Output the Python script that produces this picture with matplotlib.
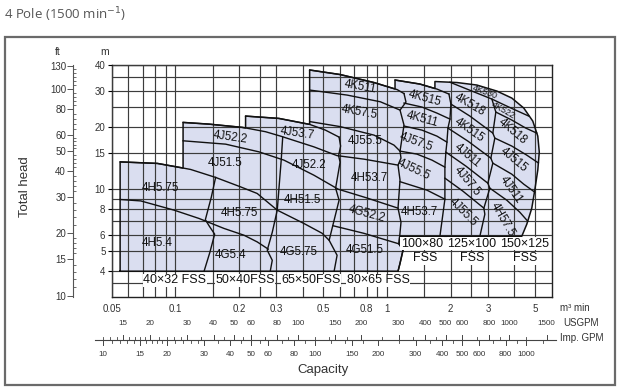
import matplotlib
matplotlib.use("Agg")
import matplotlib.pyplot as plt
from matplotlib.patches import Polygon, Rectangle
from matplotlib.ticker import NullFormatter

plt.rcParams['font.family'] = ['Liberation Sans', 'DejaVu Sans']

# ---------------- data (capacity m3/min, head m) ----------------
# 40x32 top / long divider curves
A_q = [0.0548, 0.0822, 0.1087, 0.1181, 0.1549, 0.2032, 0.2435, 0.3029, 0.4045, 0.4936, 0.5327]
A_h = [13.56, 13.33, 12.66, 12.46, 11.40, 10.26, 9.53, 7.91, 6.82, 6.11, 5.65]
B_q = [0.0548, 0.0686, 0.0986, 0.1293, 0.1697, 0.2109, 0.2435, 0.2746]
B_h = [8.91, 8.77, 7.91, 7.21, 6.45, 5.98, 5.55, 5.12]
C_q = [0.1087, 0.1442, 0.2070, 0.2146, 0.2667, 0.3139, 0.4511, 0.5808, 0.7788, 1.127]
C_h = [21.07, 20.67, 19.93, 19.81, 18.99, 18.08, 16.04, 14.54, 13.98, 13.08]
D_q = [0.1087, 0.1727, 0.2481, 0.3256, 0.4511, 0.5873, 0.7961, 1.127]
D_h = [17.16, 16.53, 15.17, 13.83, 11.69, 10.0, 9.09, 8.09]
E_q = [0.2146, 0.3084, 0.4309, 0.5117, 0.5935]
E_h = [22.61, 22.03, 20.61, 19.33, 17.88]
F_q = [0.4309, 0.6001, 0.8683, 1.091, 1.115, 1.203]
F_h = [37.83, 35.96, 32.88, 30.61, 30.41, 29.08]
G_q = [0.4309, 0.6477, 0.9298, 1.152]
G_h = [30.24, 28.59, 26.53, 24.18]
H_q = [0.4309, 0.6001, 0.8683, 1.079, 1.152]
H_h = [21.27, 20.11, 18.28, 16.35, 15.29]
K_q = [0.555, 0.7763, 1.139]
K_h = [6.65, 6.11, 5.43]
L_q = [1.091, 1.431, 1.684, 1.721, 1.961]
L_h = [33.82, 32.33, 30.77, 30.58, 28.92]
M1_q = [1.203, 1.463, 1.721, 1.983]
M1_h = [26.15, 25.01, 23.38, 21.87]
M2_q = [1.203, 1.463, 1.721, 1.919]
M2_h = [20.23, 19.33, 18.08, 16.91]
M3_q = [1.152, 1.385, 1.631, 1.877]
M3_h = [15.29, 14.79, 13.83, 12.79]
M4_q = [1.152, 1.544, 1.877]
M4_h = [10.87, 9.89, 8.94]
O_q = [1.684, 2.139, 2.658, 3.303, 3.887, 4.428, 4.884, 5.157, 5.242, 5.157, 4.991, 4.831, 4.575, 4.333]
O_h = [33.26, 32.89, 31.98, 29.90, 27.65, 24.73, 21.38, 18.08, 15.12, 12.37, 9.89, 8.09, 6.76, 5.91]
N1_q = [1.983, 2.518, 3.129, 3.763, 4.675]
N1_h = [33.0, 29.90, 27.35, 25.01, 22.61]
N2_q = [3.267, 3.887, 4.527, 5.100]
N2_h = [23.65, 21.63, 19.77, 18.70]
P1_q = [2.004, 2.464, 3.162]
P1_h = [25.86, 22.61, 18.70]
P2_q = [1.940, 2.411, 3.095]
P2_h = [19.77, 17.10, 14.14]
P3_q = [1.897, 2.358, 2.995]
P3_h = [15.12, 12.94, 10.69]
P4_q = [1.877, 2.283, 2.868]
P4_h = [11.31, 9.78, 8.09]
Q2_q = [3.232, 3.887, 4.575, 5.19]
Q2_h = [17.68, 16.18, 14.62, 13.4]
Q3_q = [3.162, 3.887, 4.428, 4.991]
Q3_h = [13.37, 11.82, 10.57, 9.67]
Q4_q = [3.061, 3.681, 4.241, 4.625]
Q4_h = [10.11, 8.84, 7.73, 6.99]

# right-hand limits of each pump size
RB40_q = [0.1549, 0.1478, 0.1385, 0.1447, 0.1533, 0.1455, 0.1366]
RB40_h = [11.40, 9.15, 7.11, 6.61, 6.05, 4.94, 4.0]
RB50_q = [0.3214, 0.3162, 0.3094, 0.3029, 0.2869, 0.2716, 0.2869, 0.2806]
RB50_h = [17.88, 13.83, 10.45, 7.91, 6.18, 5.06, 4.52, 4.0]
RB65_q = [0.5935, 0.6034, 0.5903, 0.6001, 0.5716, 0.5935, 0.5327, 0.5808, 0.5623]
RB65_h = [17.88, 16.18, 14.54, 13.52, 10.11, 8.84, 5.65, 4.78, 4.0]
RB80_q = [1.203, 1.229, 1.152, 1.203, 1.152, 1.164, 1.127, 1.152, 1.127, 1.164, 1.139, 1.190, 1.152, 1.127]
RB80_h = [29.08, 26.44, 24.18, 20.44, 15.29, 14.14, 13.08, 11.06, 8.09, 6.91, 5.43, 5.06, 4.37, 4.0]
RB100_q = [1.961, 2.004, 1.983, 1.940, 1.919, 1.897, 1.877, 1.877, 1.877, 1.778]
RB100_h = [28.92, 25.86, 21.87, 19.77, 16.91, 15.12, 12.79, 11.31, 8.94, 5.91]
RB125_q = [3.129, 3.267, 3.162, 3.232, 3.095, 3.162, 2.995, 3.061, 2.868, 2.899, 2.746]
RB125_h = [27.35, 23.65, 18.70, 17.68, 14.14, 13.37, 10.69, 10.11, 8.09, 7.56, 5.91]

BASE_H = 4.0
SHELF_H = 5.91
shelf_q = [4.333, 1.148]

# model labels: text, Q, H, rotation
model_txt = ['4H5.75', '4H5.4',
             '4J52.2', '4J51.5', '4H5.75', '4G5.4',
             '4J53.7', '4J52.2', '4H51.5', '4G5.75',
             '4K511', '4K57.5', '4J55.5', '4H53.7', '4G52.2', '4G51.5',
             '4K515', '4K511', '4J57.5', '4J55.5', '4H53.7',
             '4K518', '4K515', '4J511', '4J57.5', '4J55.5',
             '4K530', '4K522', '4K518', '4J515', '4J511', '4H57.5']
model_q = [0.0850, 0.0822,
           0.1817, 0.1727, 0.2003, 0.1817,
           0.3762, 0.4285, 0.3971, 0.3845,
           0.7459, 0.7378, 0.7875, 0.8225, 0.8048, 0.7875,
           1.511, 1.463, 1.370, 1.341, 1.415,
           2.464, 2.437, 2.385, 2.385, 2.283,
           2.899, 3.563, 3.929, 3.972, 3.845, 3.525]
model_h = [10.11, 5.47,
           17.88, 13.37, 7.65, 4.78,
           18.70, 13.08, 8.84, 4.94,
           31.27, 23.65, 17.10, 11.31, 7.56, 5.06,
           27.65, 21.87, 16.91, 12.37, 7.73,
           25.57, 19.33, 14.62, 10.93, 7.73,
           29.58, 24.18, 19.12, 13.83, 9.89, 7.15]
model_rot = [0, 0,
             -8, 0, 0, 0,
             -8, 0, 0, 0,
             -10, -10, 0, 0, -15, 0,
             -15, -15, -20, -25, 0,
             -30, -35, -40, -50, -45,
             -20, -30, -40, -40, -55, -60]

size_txt = ['40×32 FSS', '50×40FSS', '65×50FSS', '80×65 FSS',
            '100×80', 'FSS', '125×100', 'FSS', '150×125', 'FSS']
size_q = [0.0995, 0.2127, 0.4381, 0.9070, 1.463, 1.511, 2.518, 2.518, 4.477, 4.477]
size_h = [3.62, 3.62, 3.62, 3.62, 5.44, 4.62, 5.44, 4.62, 5.44, 4.62]

cap_ticks = [0.05, 0.1, 0.2, 0.3, 0.5, 0.8, 1, 2, 3, 5]
cap_labels = ['0.05', '0.1', '0.2', '0.3', '0.5', '0.8', '1', '2', '3', '5']
x_grid = [0.06, 0.07, 0.08, 0.09, 0.15, 0.25, 0.4, 0.6, 0.7, 0.9, 1.5, 2.5, 4]
m_ticks = [4, 5, 6, 8, 10, 15, 20, 30, 40]
y_grid = [3.5, 7, 9, 25, 35]
ft_ticks = [10, 15, 20, 30, 40, 50, 60, 80, 100, 130]
ft_minor = list(range(11, 20)) + list(range(22, 60, 2)) + list(range(64, 100, 4)) + list(range(105, 135, 5))

usg_major = [15, 20, 30, 40, 50, 60, 80, 100, 150, 200, 300, 400, 500, 600, 800, 1000, 1500]
usg_minor = [12, 13, 14, 16, 17, 18, 19, 22, 24, 26, 28, 35, 45, 55, 70, 90, 120, 140, 170,
             250, 350, 450, 700, 900, 1200]
imp_major = [10, 15, 20, 30, 40, 50, 60, 80, 100, 150, 200, 300, 400, 500, 600, 800, 1000]
imp_minor = [11, 12, 13, 14, 16, 17, 18, 19, 22, 24, 26, 28, 35, 45, 55, 70, 90, 120, 140, 170,
             250, 350, 450, 700, 900, 1200]
USG = 264.172
IMP = 219.969
M2FT = 3.28084

# ---------------- figure ----------------
fig = plt.figure(figsize=(6.22, 3.91), dpi=100)
ax = fig.add_axes([111.7 / 622, 1 - 297 / 391, 440 / 622, 232 / 391])
ax.set_xscale('log')
ax.set_yscale('log')
ax.set_xlim(0.05, 6.0)
ax.set_ylim(3.0, 40.0)

fill_col = '#dadef0'
line_col = '#111111'

# outer silhouette of the covered range
sil_q = ([A_q[0]] + A_q[:3] + C_q[:4] + E_q[:3] + F_q[:4] + L_q[:3] + O_q
         + [shelf_q[1]] + RB80_q[-4:])
sil_h = ([BASE_H] + A_h[:3] + C_h[:4] + E_h[:3] + F_h[:4] + L_h[:3] + O_h
         + [SHELF_H] + RB80_h[-4:])
ax.add_patch(Polygon(list(zip(sil_q, sil_h)), closed=True, facecolor=fill_col,
                     edgecolor='none', zorder=1))
ax.plot(sil_q + [sil_q[0]], sil_h + [sil_h[0]], color=line_col, lw=1.1, zorder=3)

curves = [(A_q, A_h), (B_q, B_h), (C_q, C_h), (D_q, D_h), (E_q, E_h), (F_q, F_h),
          (G_q, G_h), (H_q, H_h), (K_q, K_h), (L_q, L_h), (M1_q, M1_h), (M2_q, M2_h),
          (M3_q, M3_h), (M4_q, M4_h), (N1_q, N1_h), (N2_q, N2_h), (P1_q, P1_h),
          (P2_q, P2_h), (P3_q, P3_h), (P4_q, P4_h), (Q2_q, Q2_h), (Q3_q, Q3_h),
          (Q4_q, Q4_h), (RB40_q, RB40_h), (RB50_q, RB50_h), (RB65_q, RB65_h),
          (RB80_q, RB80_h), (RB100_q, RB100_h), (RB125_q, RB125_h)]
for q, h in curves:
    ax.plot(q, h, color=line_col, lw=1.0, zorder=3, solid_joinstyle='round')

for t, q, h, r in zip(model_txt, model_q, model_h, model_rot):
    fs = 6.5 if t in ('4K530', '4K522') else 8.3
    ax.text(q, h, t, rotation=r, rotation_mode='anchor', ha='center', va='center',
            fontsize=fs, color='#111111', zorder=4)

for t, q, h in zip(size_txt, size_q, size_h):
    ax.text(q, h, t, ha='center', va='center', fontsize=9, color='#111111', zorder=4,
            bbox=dict(facecolor='white', edgecolor='none', pad=0.4))

# grid and axes
ax.set_xticks(cap_ticks, cap_labels)
ax.set_xticks(x_grid, minor=True)
ax.set_yticks(m_ticks, [str(v) for v in m_ticks])
ax.set_yticks(y_grid, minor=True)
ax.xaxis.set_minor_formatter(NullFormatter())
ax.yaxis.set_minor_formatter(NullFormatter())
ax.set_axisbelow(False)
ax.grid(True, which='both', color='#3c3c3c', lw=0.85)
ax.tick_params(axis='x', which='both', length=0, labelsize=7, pad=5, labelcolor='#333333')
ax.tick_params(axis='y', which='major', length=3, width=0.8, direction='out',
               labelsize=7, pad=1.5, labelcolor='#333333')
ax.tick_params(axis='y', which='minor', length=0)
for s in ax.spines.values():
    s.set_color('#222222')
    s.set_linewidth(1.0)

# feet scale on the left
ax2 = fig.add_axes([73 / 622, 1 - 297 / 391, 0.0001, 232 / 391])
ax2.set_yscale('log')
ax2.set_ylim(3.0 * M2FT, 40.0 * M2FT)
ax2.set_xticks([])
for k in ('top', 'right', 'bottom'):
    ax2.spines[k].set_visible(False)
ax2.spines['left'].set_color('#555555')
ax2.spines['left'].set_linewidth(0.8)
ax2.set_facecolor('none')
ax2.set_yticks(ft_ticks, [str(v) for v in ft_ticks])
ax2.set_yticks(ft_minor, minor=True)
ax2.yaxis.set_minor_formatter(NullFormatter())
ax2.tick_params(axis='y', which='major', length=4, width=0.7, direction='out',
                labelsize=7, pad=1, color='#555555', labelcolor='#333333')
ax2.tick_params(axis='y', which='minor', length=2.5, width=0.6, direction='in',
                color='#555555')

fig.text(58 / 622, 1 - 52 / 391, 'ft', ha='center', va='center', fontsize=7.5, color='#333333')
fig.text(105 / 622, 1 - 52 / 391, 'm', ha='center', va='center', fontsize=7.5, color='#333333')
fig.text(25 / 622, 1 - 187 / 391, 'Total head', rotation=90, ha='center', va='center',
         fontsize=9.5, color='#333333')

# flow conversion scale below the chart
tr = ax.get_xaxis_transform()
y_line = -0.185
px = 1 / 232
ax.plot([0.0417, 6.3], [y_line, y_line], transform=tr, clip_on=False, color='#444444', lw=0.8)
for v in usg_major:
    ax.plot([v / USG] * 2, [y_line, y_line + 5 * px], transform=tr, clip_on=False,
            color='#444444', lw=0.7)
    ax.text(v / USG, -0.116, str(v), transform=tr, ha='center', va='center',
            fontsize=5.8, color='#333333')
for v in usg_minor:
    ax.plot([v / USG] * 2, [y_line, y_line + 3 * px], transform=tr, clip_on=False,
            color='#444444', lw=0.6)
for v in imp_major:
    ax.plot([v / IMP] * 2, [y_line, y_line - 5 * px], transform=tr, clip_on=False,
            color='#444444', lw=0.7)
    ax.text(v / IMP, -0.25, str(v), transform=tr, ha='center', va='center',
            fontsize=5.8, color='#333333')
for v in imp_minor:
    ax.plot([v / IMP] * 2, [y_line, y_line - 3 * px], transform=tr, clip_on=False,
            color='#444444', lw=0.6)

ax.text(1.019, -0.047, 'm³ min', transform=ax.transAxes, ha='left', va='center',
        fontsize=7, color='#333333')
ax.text(1.026, -0.112, 'USGPM', transform=ax.transAxes, ha='left', va='center',
        fontsize=7, color='#333333')
ax.text(1.019, -0.177, 'Imp. GPM', transform=ax.transAxes, ha='left', va='center',
        fontsize=7, color='#333333')
ax.text(0.48, -0.315, 'Capacity', transform=ax.transAxes, ha='center', va='center',
        fontsize=9.5, color='#333333')

# title and outer frame
fig.text(4 / 622, 1 - 15 / 391, '4 Pole (1500 min$^{-1}$)', ha='left', va='center',
         fontsize=9.5, color='#555555', family=['Open Sans', 'DejaVu Sans'])
fig.patches.append(Rectangle((5 / 622, 1 - 385 / 391), 610 / 622, 348 / 391,
                             transform=fig.transFigure, fill=False,
                             edgecolor='#6a6a6a', lw=1.6))

fig.savefig('out.png', dpi=100)
